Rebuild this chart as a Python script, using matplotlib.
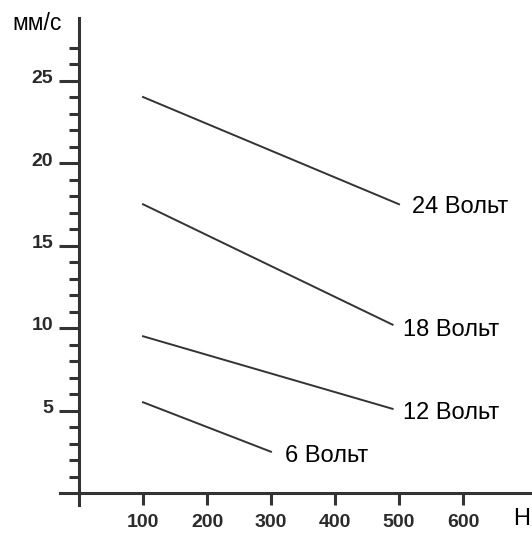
import matplotlib
matplotlib.use("Agg")
import matplotlib.pyplot as plt
from matplotlib.transforms import ScaledTranslation

# data
loads_24 = [100, 500]
speed_24 = [24.0, 17.5]
loads_18 = [100, 490]
speed_18 = [17.5, 10.2]
loads_12 = [100, 490]
speed_12 = [9.5, 5.1]
loads_6 = [100, 300]
speed_6 = [5.5, 2.5]
series_labels = ["24 Вольт", "18 Вольт", "12 Вольт", "6 Вольт"]
x_ticks = [100, 200, 300, 400, 500, 600]
y_ticks = [5, 10, 15, 20, 25]
y_minor = [v for v in range(1, 28) if v % 5 != 0]

W, H = 532, 533
fig = plt.figure(figsize=(W / 100, H / 100), dpi=100)

# axes geometry in pixels (origin at x=79, y=493 from top)
px_x0, px_y0 = 79, 493
sx = 0.64      # px per unit x
sy = 16.5      # px per unit y
left_px, right_px = 60, 530
top_px, bottom_px = 18, 505
ax = fig.add_axes([left_px / W, (H - bottom_px) / H, (right_px - left_px) / W, (bottom_px - top_px) / H])
ax.set_xlim((left_px - px_x0) / sx, (right_px - px_x0) / sx)
ax.set_ylim(-(bottom_px - px_y0) / sy, (px_y0 - top_px) / sy)

col = "#333333"
for s in ["top", "right"]:
    ax.spines[s].set_visible(False)
ax.spines["left"].set_position(("data", 0))
ax.spines["bottom"].set_position(("data", 0))
for s in ["left", "bottom"]:
    ax.spines[s].set_color(col)
    ax.spines[s].set_linewidth(2.2)
ax.patch.set_alpha(0)

tick_font = {"family": "Liberation Sans", "weight": "bold", "size": 14}
ax.set_xticks(x_ticks)
ax.set_xticklabels([str(v) for v in x_ticks], fontdict=tick_font)
ax.set_yticks(y_ticks)
ax.set_yticklabels([str(v) for v in y_ticks], fontdict=tick_font)
ax.set_yticks(y_minor, minor=True)
ax.tick_params(axis="x", direction="out", length=8.6, width=2.2, color=col, pad=6.5,
               labelcolor="#2a2a2a")
ax.tick_params(axis="y", which="major", direction="out", length=14.4, width=2.2, color=col,
               pad=4.3, labelcolor="#2a2a2a")
ax.tick_params(axis="y", which="minor", direction="out", length=7.2, width=2.2, color=col)
for lab in ax.get_yticklabels():
    lab.set_transform(lab.get_transform() + ScaledTranslation(0, 4 / 100, fig.dpi_scale_trans))

lw = 1.4
ax.plot(loads_24, speed_24, color=col, lw=lw)
ax.plot(loads_18, speed_18, color=col, lw=lw)
ax.plot(loads_12, speed_12, color=col, lw=lw)
ax.plot(loads_6, speed_6, color=col, lw=lw)

fs = 17
fam = "Liberation Sans"
ax.text(520, 16.97, series_labels[0], fontsize=fs, family=fam, va="baseline", ha="left")
ax.text(506, 9.52, series_labels[1], fontsize=fs, family=fam, va="baseline", ha="left")
ax.text(506, 4.48, series_labels[2], fontsize=fs, family=fam, va="baseline", ha="left")
ax.text(322, 1.88, series_labels[3], fontsize=fs, family=fam, va="baseline", ha="left")

fig.text(12 / W, 1 - 30 / H, "мм/с", fontsize=16.5, family=fam, va="baseline", ha="left")
fig.text(513 / W, 1 - 525 / H, "Н", fontsize=17, family=fam, va="baseline", ha="left")

fig.savefig("out.png", dpi=100)
